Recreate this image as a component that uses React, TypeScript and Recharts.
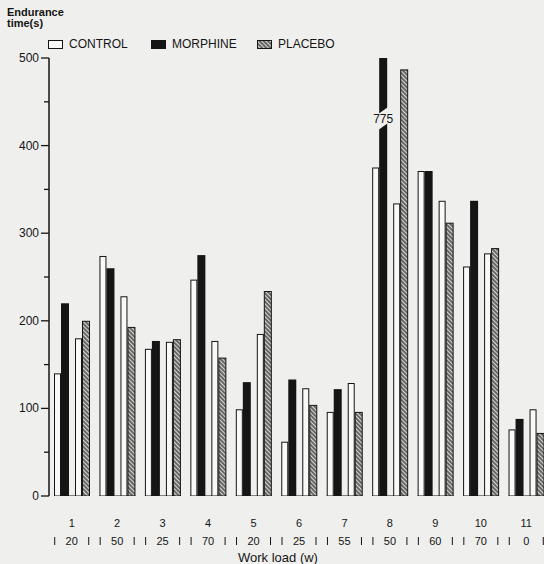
import React from "react";
import { BarChart, Bar, XAxis, YAxis } from "recharts";

const groups = ["1", "2", "3", "4", "5", "6", "7", "8", "9", "10", "11"];
const workLoads = [20, 50, 25, 70, 20, 25, 55, 50, 60, 70, 0];
const controlA = [140, 274, 168, 247, 99, 62, 96, 375, 371, 262, 76];
const morphine = [220, 260, 177, 275, 130, 133, 122, 775, 371, 337, 88];
const controlB = [180, 228, 176, 177, 185, 123, 129, 334, 337, 277, 99];
const placebo = [200, 193, 179, 158, 234, 104, 96, 487, 312, 283, 72];
const yTicks = [0, 50, 100, 150, 200, 250, 300, 350, 400, 450, 500];
const Y_MAX = 500;

const data = groups.map((g, i) => ({
  group: g,
  load: workLoads[i],
  controlA: controlA[i],
  morphine: morphine[i],
  controlB: controlB[i],
  placebo: placebo[i],
}));

const INK = "#151515";
const PAPER = "#efefed";
const BAR_WHITE = "#f9f9f7";
const FONT = '"Liberation Sans", Arial, sans-serif';
const PLOT_TOP = 58;
const GAP = 6;

function baseLine(x: number, bottom: number, width: number) {
  return <rect x={x} y={bottom - 0.5} width={width} height={3} fill={INK} />;
}

function ControlAShape(props: any) {
  const { x, y, width, height } = props;
  const bottom = y + height;
  return (
    <g>
      <rect x={x + 0.5} y={y + 0.5} width={width - 1} height={height} fill={BAR_WHITE} stroke={INK} strokeWidth={1} />
      {baseLine(x, bottom, width)}
    </g>
  );
}

function ControlBShape(props: any) {
  const { x, y, width, height } = props;
  const bottom = y + height;
  return (
    <g>
      <rect x={x + 0.5} y={y + 0.5} width={width - 1} height={height} fill={BAR_WHITE} stroke={INK} strokeWidth={1} />
      {baseLine(x - GAP, bottom, width + GAP)}
    </g>
  );
}

function MorphineShape(props: any) {
  const { x, y, width, height, payload } = props;
  const bottom = y + height;
  const top = Math.max(y, PLOT_TOP);
  const broken = payload.morphine > Y_MAX;
  const cy = PLOT_TOP + 60;
  return (
    <g>
      <rect x={x} y={top} width={width} height={bottom - top} fill={INK} />
      {baseLine(x, bottom, width)}
      {broken && (
        <g>
          <polygon
            points={`${x - 1},${cy - 4} ${x + width + 1},${cy - 11} ${x + width + 1},${cy + 5} ${x - 1},${cy + 12}`}
            fill={PAPER}
          />
          <text x={x + width / 2} y={cy + 5} textAnchor="middle" fontSize={12} fontFamily={FONT} fill={INK}>
            {payload.morphine}
          </text>
        </g>
      )}
    </g>
  );
}

function PlaceboShape(props: any) {
  const { x, y, width, height } = props;
  const bottom = y + height;
  return (
    <g>
      <rect x={x + 0.5} y={y + 0.5} width={width - 1} height={height} fill="url(#hatch)" stroke={INK} strokeWidth={1} />
      {baseLine(x, bottom, width)}
    </g>
  );
}

function YTick(props: any) {
  const { x, y, payload } = props;
  const v = payload.value;
  const major = v % 100 === 0;
  return (
    <g>
      <line x1={x - (major ? 8 : 5)} x2={x} y1={y} y2={y} stroke={INK} strokeWidth={1.3} />
      {major && (
        <text x={x - 10} y={y + 4} textAnchor="end" fontSize={12} fontFamily={FONT} fill={INK}>
          {v}
        </text>
      )}
    </g>
  );
}

function XTick(props: any) {
  const { x, y, payload } = props;
  const i = groups.indexOf(String(payload.value));
  return (
    <g fontFamily={FONT} fill={INK}>
      <text x={x} y={y + 31} textAnchor="middle" fontSize={11}>
        {payload.value}
      </text>
      <line x1={x - 17} x2={x - 17} y1={y + 41} y2={y + 49} stroke={INK} strokeWidth={1} />
      <line x1={x + 17} x2={x + 17} y1={y + 41} y2={y + 49} stroke={INK} strokeWidth={1} />
      <text x={x} y={y + 49} textAnchor="middle" fontSize={11}>
        {workLoads[i]}
      </text>
    </g>
  );
}

function Swatch({ fill }: { fill: string }) {
  return (
    <svg width={15} height={9} style={{ display: "block" }}>
      <rect x={0.5} y={0.5} width={14} height={8} fill={fill} stroke={INK} strokeWidth={1} />
    </svg>
  );
}

const legendItems = [
  { label: "CONTROL", fill: BAR_WHITE, left: 48 },
  { label: "MORPHINE", fill: INK, left: 151 },
  { label: "PLACEBO", fill: "url(#hatch)", left: 257 },
];

export default function App() {
  return (
    <div
      style={{
        position: "fixed",
        left: 0,
        top: 0,
        width: 544,
        height: 564,
        overflow: "hidden",
        background: PAPER,
        fontFamily: FONT,
        color: INK,
      }}
    >
      <svg width={0} height={0} style={{ position: "absolute" }}>
        <defs>
          <pattern id="hatch" width={3} height={3} patternUnits="userSpaceOnUse" patternTransform="rotate(-45)">
            <rect width={3} height={3} fill="#d8d8d6" />
            <line x1={1} y1={0} x2={1} y2={3} stroke="#2a2a2a" strokeWidth={1.3} />
          </pattern>
        </defs>
      </svg>

      <div style={{ position: "absolute", left: 7, top: 7, fontSize: 11, fontWeight: "bold", lineHeight: "11px" }}>
        Endurance
        <br />
        time(s)
      </div>

      {legendItems.map((item) => (
        <div
          key={item.label}
          style={{ position: "absolute", left: item.left, top: 37, display: "flex", alignItems: "center", fontSize: 12 }}
        >
          <Swatch fill={item.fill} />
          <span style={{ marginLeft: 6 }}>{item.label}</span>
        </div>
      ))}

      <div style={{ position: "absolute", left: 238, top: 550, fontSize: 13, lineHeight: "15px" }}>
        Work load (w)
      </div>

      <div style={{ position: "absolute", left: 0, top: 0 }}>
        <BarChart
          width={549}
          height={564}
          data={data}
          margin={{ top: PLOT_TOP, right: 0, bottom: 0, left: 0 }}
          barGap={0}
        >
          <XAxis
            dataKey="group"
            height={68}
            axisLine={false}
            tickLine={false}
            tickSize={0}
            tickMargin={0}
            interval={0}
            tick={<XTick />}
          />
          <YAxis
            width={49}
            domain={[0, Y_MAX]}
            allowDataOverflow
            ticks={yTicks}
            interval={0}
            axisLine={{ stroke: INK, strokeWidth: 1.5 }}
            tickLine={false}
            tickSize={0}
            tickMargin={0}
            tick={<YTick />}
          />
          <Bar dataKey="controlA" barSize={7} shape={<ControlAShape />} isAnimationActive={false} />
          <Bar dataKey="morphine" barSize={8} shape={<MorphineShape />} isAnimationActive={false} />
          <Bar dataKey="spacer" barSize={GAP} isAnimationActive={false} />
          <Bar dataKey="controlB" barSize={7} shape={<ControlBShape />} isAnimationActive={false} />
          <Bar dataKey="placebo" barSize={8} shape={<PlaceboShape />} isAnimationActive={false} />
        </BarChart>
      </div>
    </div>
  );
}
